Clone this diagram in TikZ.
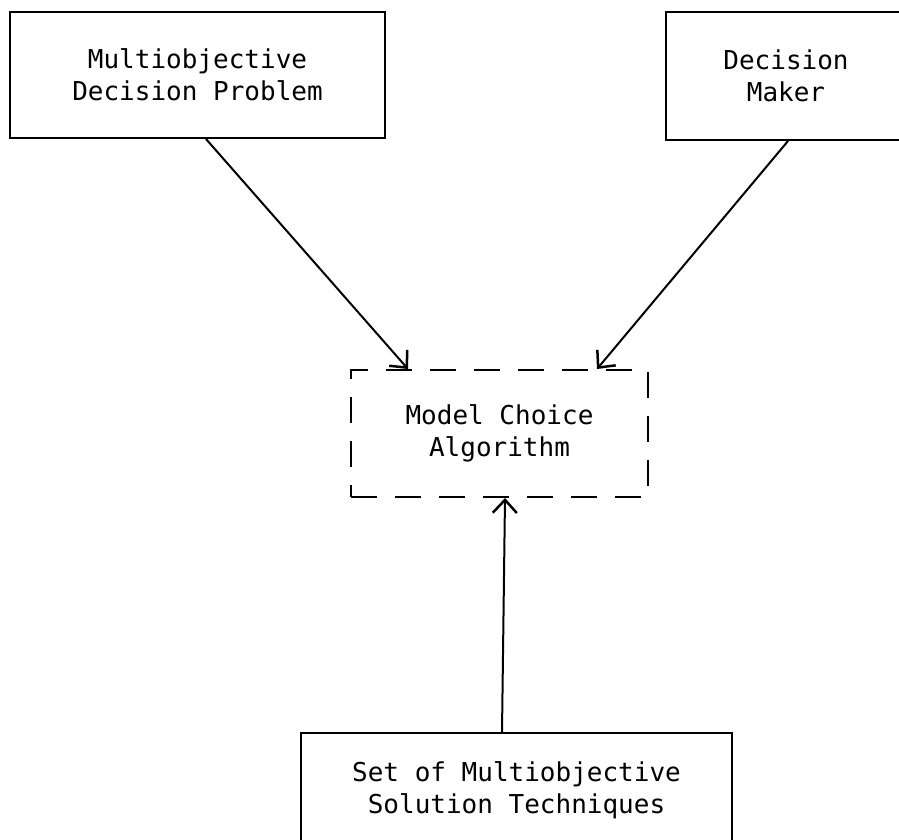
\documentclass[tikz,border=0pt]{standalone}
\usepackage{fontspec}
\newfontfamily\typefont{DejaVu Sans Mono}
\usetikzlibrary{arrows.meta}
\tikzset{
  box/.style={draw, line width=2pt, align=center, inner sep=0pt,
    font=\typefont\fontsize{26}{32}\selectfont},
  dashbox/.style={box, dash pattern=on 26pt off 18pt},
  arr/.style={line width=2pt, -{Straight Barb[length=13pt,width=24pt,line width=2.5pt]}}
}
\begin{document}
\begin{tikzpicture}[x=1pt,y=-1pt]
            \useasboundingbox (0,0) rectangle (899,840);
            \clip (0,0) rectangle (899,840);
            \node[box, minimum width=375pt, minimum height=126pt] (mdp) at (197.5,75) {Multiobjective\\Decision Problem};
            \node[box, minimum width=240pt, minimum height=128pt] (dm) at (786,76) {Decision\\Maker};
            \node[dashbox, minimum width=297pt, minimum height=127pt] (mca) at (499.5,433.5) {Model Choice\\ Algorithm};
            \node[box, minimum width=431pt, minimum height=114pt] (tech) at (516.5,790) {Set of Multiobjective\\Solution Techniques};
            \draw[arr] ([xshift=8.5pt]mdp.south) -- ([xshift=-91.5pt]mca.north);
            \draw[arr] ([xshift=2pt]dm.south) -- ([xshift=97.5pt]mca.north);
            \draw[arr] ([xshift=-14.5pt]tech.north) -- ([xshift=5.5pt]mca.south);
\end{tikzpicture}
\end{document}
